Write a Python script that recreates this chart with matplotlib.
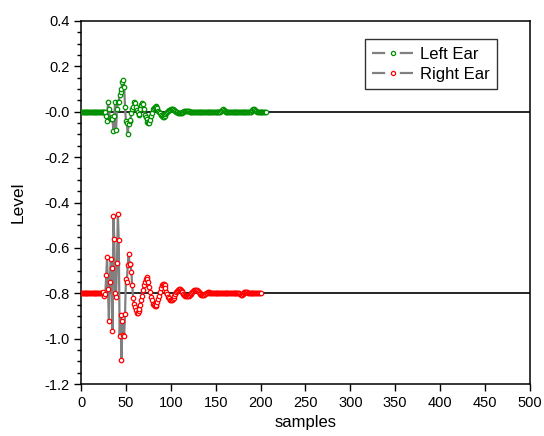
import numpy as np
import matplotlib.pyplot as plt
from matplotlib.lines import Line2D

plt.rcParams['font.family'] = ['Liberation Sans', 'DejaVu Sans']
plt.rcParams['axes.unicode_minus'] = False
plt.rcParams['lines.scale_dashes'] = False

# left ear: samples 0..206, flat before the onset at sample 27
left_wave = [0.0, -0.02, -0.043, 0.045, 0.01, -0.028, -0.03, -0.025, -0.03, -0.087,
             -0.02, 0.045, -0.08, 0.01, 0.045, 0.045, 0.075, 0.085, 0.1, 0.133,
             0.138, 0.11, 0.023, -0.043, -0.05, -0.1, -0.055, -0.04, -0.035, -0.007,
             0.01, 0.02, 0.044, 0.04, 0.02, 0.008, 0.0, -0.015, -0.01, 0.01,
             0.03, 0.04, 0.035, 0.01, -0.015, -0.025, -0.03, -0.044, -0.05, -0.05,
             -0.035, -0.02, -0.005, 0.01, 0.015, 0.022, 0.025, 0.02, 0.015, 0.005,
             -0.002, -0.007, -0.013, -0.018, -0.022, -0.022, -0.02, -0.012, -0.004, 0.0,
             0.004, 0.007, 0.008, 0.01, 0.01, 0.01, 0.009, 0.006, 0.003, 0.0,
             -0.003, -0.005, -0.007, -0.007, -0.007, -0.005, -0.003, 0.0, 0.002, 0.004,
             0.004, 0.004, 0.003, 0.001, 0.0, -0.001]
left_tail = [0.0] * 33 + [0.004, 0.008, 0.01, 0.008, 0.004] + [0.0] * 29 + \
            [0.004, 0.008, 0.01, 0.01, 0.007, 0.003] + [0.0] * 11
left_ear = [0.0] * 27 + left_wave + left_tail

# right ear: samples 0..200, offset by -0.8
right_offset = -0.8
right_wave = [0.005, -0.01, -0.005, 0.08, 0.16, 0.02, -0.12, 0.05, 0.15, 0.11,
              -0.165, 0.34, 0.24, 0.0, -0.015, 0.135, 0.35, 0.235, -0.19, -0.095,
              -0.295, -0.12, -0.185, -0.19, -0.09, 0.065, 0.05, 0.125, 0.175, 0.13,
              0.13, 0.095, 0.035, -0.02, -0.045, -0.06, -0.075, -0.085, -0.085, -0.08,
              -0.07, -0.05, -0.03, -0.01, 0.015, 0.035, 0.05, 0.065, 0.07, 0.065,
              0.05, 0.03, 0.005, -0.015, -0.03, -0.045, -0.052, -0.055, -0.055, -0.05,
              -0.04, -0.025, -0.01, 0.008, 0.022, 0.035, 0.042, 0.042, 0.035, 0.022,
              0.008, -0.005, -0.015, -0.022, -0.028, -0.03, -0.03, -0.027, -0.02, -0.012,
              -0.003, 0.005, 0.012, 0.016, 0.018, 0.018, 0.015, 0.01, 0.004, -0.002,
              -0.007, -0.011, -0.013, -0.014, -0.014, -0.012, -0.008, -0.004, 0.0, 0.005,
              0.01, 0.013, 0.015, 0.015, 0.013, 0.009, 0.004, 0.0, -0.004, -0.007,
              -0.008, -0.008, -0.006, -0.003, 0.0, 0.002, 0.004, 0.004, 0.003, 0.001]
right_tail = [0.0] * 32 + [-0.003, -0.006, -0.006, -0.003, 0.0, 0.004, 0.007, 0.007, 0.004] + \
             [0.0] * 15
right_ear = [0.0] * 25 + right_wave + right_tail

left = np.array(left_ear)
right = np.array(right_ear) + right_offset

fig = plt.figure(figsize=(5.44, 4.36), dpi=100)
ax = fig.add_axes([0.149, 0.119, 0.825, 0.833])

ax.axhline(0.0, color='black', lw=1.2, zorder=2)
ax.axhline(right_offset, color='black', lw=1.2, zorder=2)

style = dict(color='gray', lw=1.6, marker='o', markersize=3.2,
             markerfacecolor='white', markeredgewidth=0.9, zorder=3)
ax.plot(np.arange(len(left)), left, markeredgecolor='#009000', **style)
ax.plot(np.arange(len(right)), right, markeredgecolor='#ff0000', **style)

# legend handles drawn like "— o —"
handle_style = dict(color='gray', lw=1.6, marker='o', markersize=3.0,
                    markerfacecolor='white', markeredgewidth=0.9,
                    linestyle=(0, (9.5, 10.5)))
handles = [Line2D([], [], markeredgecolor='#009000', **handle_style),
           Line2D([], [], markeredgecolor='#ff0000', **handle_style)]

ax.set_xlim(0, 500)
ax.set_ylim(-1.2, 0.4)
ax.set_xticks(np.arange(0, 501, 50))
ax.set_yticks(np.arange(-1.2, 0.41, 0.2))
ax.set_yticks(np.arange(-1.2, 0.41, 0.05), minor=True)
ax.yaxis.set_major_formatter(plt.FormatStrFormatter('%.1f'))
ax.tick_params(axis='both', which='major', direction='out', length=5, width=1, labelsize=10.5)
ax.tick_params(axis='y', which='minor', direction='out', length=3, width=1)
for s in ax.spines.values():
    s.set_linewidth(1.1)

ax.set_xlabel('samples', fontsize=12)
ax.set_ylabel('Level', fontsize=12.5, labelpad=13)

leg = ax.legend(handles, ['Left Ear', 'Right Ear'], loc='upper right',
                bbox_to_anchor=(0.9265, 0.95), borderaxespad=0, fontsize=12,
                frameon=True, fancybox=False, edgecolor='black', handlelength=2.45,
                borderpad=0.45, labelspacing=0.3, handletextpad=0.4)
leg.get_frame().set_linewidth(1.0)

fig.savefig('out.png', dpi=100)
